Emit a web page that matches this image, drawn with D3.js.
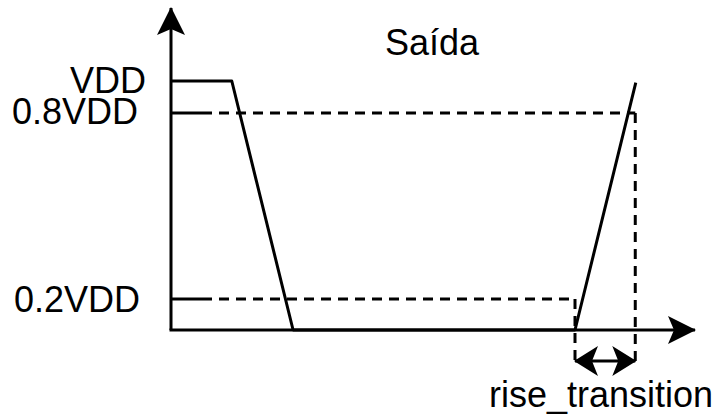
<!DOCTYPE html>
<html>
<head>
<meta charset="utf-8">
<script src="https://cdn.jsdelivr.net/npm/d3@7"></script>
<style>
  body { margin: 0; background: #fff; }
  text { font-family: 'Liberation Sans', Arial, sans-serif; font-size: 36px; fill: #000; }
</style>
</head>
<body>
<script>

// Levels of the output signal (fraction of VDD)
var levelValues = [1, 0.8, 0.2]
var levelLabels = ['VDD', '0.8VDD', '0.2VDD']

// Output waveform (schematic time units, voltage as fraction of VDD)
var waveTime = [0, 1.16, 2.33, 7.71, 8.87]
var waveVolt = [1, 1, 0, 0, 0.99]

// Instants that bound the rise transition
var riseStart = 7.71
var riseEnd = 8.86

var title = 'Saída'
var measureLabel = 'rise_transition'

var width = 722
var height = 414

var svg = d3.select('body').append('svg')
    .attr('width', width)
    .attr('height', height)

// the drawing is not to scale, so the voltage scale is piecewise
var x = d3.scaleLinear().domain([0, 10]).range([171, 695])
var y = d3.scaleLinear().domain([0, 0.2, 0.8, 1]).range([330, 299, 113, 81])

var defs = svg.append('defs')

function arrowMarker(id, len, half) {
    defs.append('marker')
        .attr('id', id)
        .attr('viewBox', '0 0 ' + len + ' ' + (2 * half))
        .attr('refX', len - 1)
        .attr('refY', half)
        .attr('markerWidth', len)
        .attr('markerHeight', 2 * half)
        .attr('markerUnits', 'userSpaceOnUse')
        .attr('orient', 'auto-start-reverse')
        .append('path')
            .attr('d', 'M' + len + ',' + half + ' L0,0 L6,' + half + ' L0,' + (2 * half) + ' Z')
            .attr('fill', '#000')
}
arrowMarker('head', 28, 14)
arrowMarker('small', 24, 15)

var yBottom = y(0)
var yTop = 8
var xRight = 695
var yMeasure = 361
var dash = '10,7'

// dashed guides
svg.append('line')
    .attr('x1', x(0) + 31).attr('x2', x(riseEnd))
    .attr('y1', y(0.8)).attr('y2', y(0.8))
    .attr('stroke', '#000').attr('stroke-width', 3).attr('stroke-dasharray', dash)
svg.append('line')
    .attr('x1', x(0) + 31).attr('x2', x(riseStart))
    .attr('y1', y(0.2)).attr('y2', y(0.2))
    .attr('stroke', '#000').attr('stroke-width', 3).attr('stroke-dasharray', dash)
svg.append('line')
    .attr('x1', x(riseEnd)).attr('x2', x(riseEnd))
    .attr('y1', y(0.8)).attr('y2', yMeasure + 2)
    .attr('stroke', '#000').attr('stroke-width', 3).attr('stroke-dasharray', dash)
svg.append('line')
    .attr('x1', x(riseStart)).attr('x2', x(riseStart))
    .attr('y1', y(0.2)).attr('y2', yMeasure + 2)
    .attr('stroke', '#000').attr('stroke-width', 3).attr('stroke-dasharray', dash)

// solid level ticks
svg.selectAll('.tick-line')
    .data(levelValues.filter(v => v < 1))
    .enter().append('line')
        .attr('x1', x(0)).attr('x2', x(0) + 31)
        .attr('y1', d => y(d)).attr('y2', d => y(d))
        .attr('stroke', '#000').attr('stroke-width', 3)

// axes
svg.append('line')
    .attr('x1', x(0)).attr('y1', yBottom)
    .attr('x2', x(0)).attr('y2', yTop)
    .attr('stroke', '#000').attr('stroke-width', 3)
    .attr('marker-end', 'url(#head)')
svg.append('line')
    .attr('x1', x(0) - 1.5).attr('y1', yBottom)
    .attr('x2', xRight).attr('y2', yBottom)
    .attr('stroke', '#000').attr('stroke-width', 3)
    .attr('marker-end', 'url(#head)')

// waveform
var line = d3.line()
    .x(d => x(d[0]))
    .y(d => y(d[1]))
svg.append('path')
    .datum(d3.zip(waveTime, waveVolt))
    .attr('d', line)
    .attr('fill', 'none')
    .attr('stroke', '#000')
    .attr('stroke-width', 3)
    .attr('stroke-linejoin', 'round')

// measurement arrow
svg.append('line')
    .attr('x1', x(riseStart)).attr('x2', x(riseEnd))
    .attr('y1', yMeasure).attr('y2', yMeasure)
    .attr('stroke', '#000').attr('stroke-width', 3)
    .attr('marker-start', 'url(#small)')
    .attr('marker-end', 'url(#small)')

// labels
var labelOffsets = [12, 11, 13]
var labelRight = [146, 138, 140]
svg.selectAll('.level-label')
    .data(levelLabels)
    .enter().append('text')
        .attr('x', (d, i) => labelRight[i])
        .attr('y', (d, i) => y(levelValues[i]) + labelOffsets[i])
        .attr('text-anchor', 'end')
        .text(d => d)

svg.append('text')
    .attr('x', 432).attr('y', 55)
    .attr('text-anchor', 'middle')
    .text(title)

svg.append('text')
    .attr('x', 489).attr('y', 407)
    .text(measureLabel)

</script>
</body>
</html>
